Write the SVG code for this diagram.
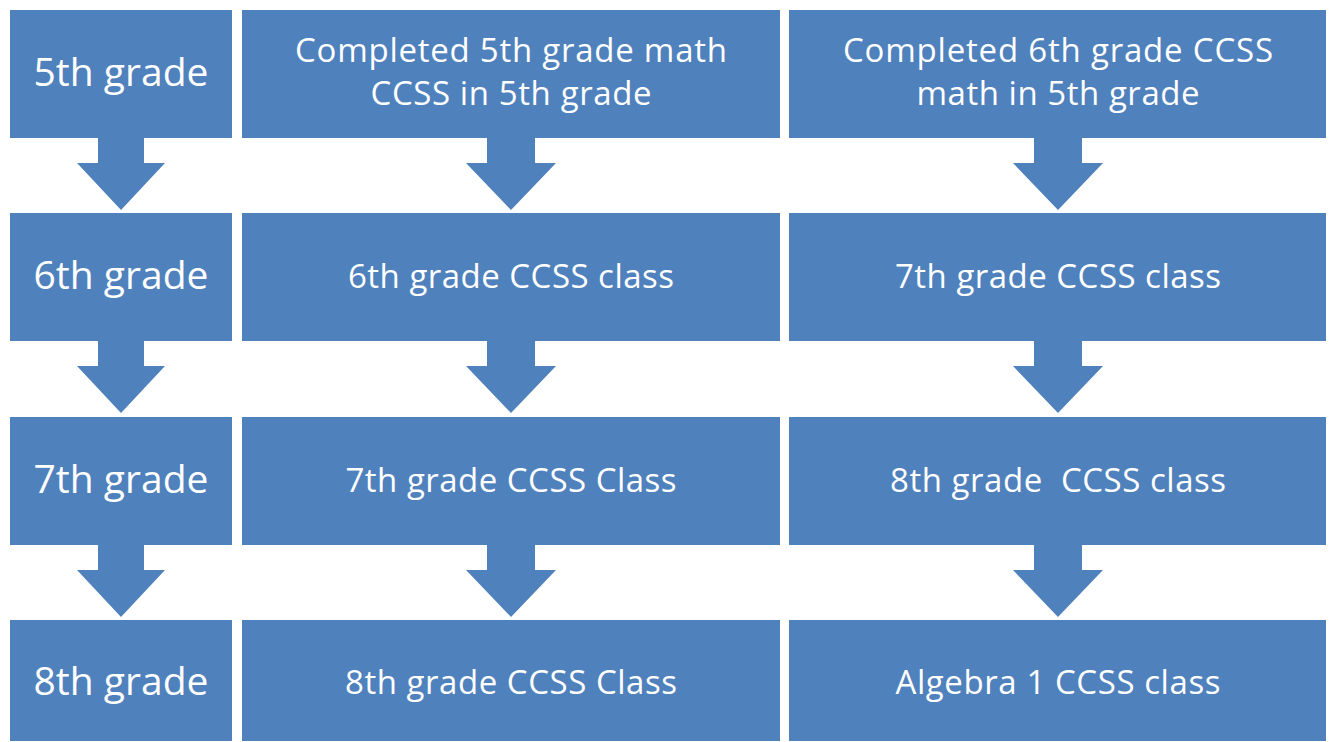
<svg xmlns="http://www.w3.org/2000/svg" width="1331" height="742" viewBox="0 0 1331 742">
  <style>
    .box { fill: #4F81BD; }
    .arrow { fill: #4F81BD; }
    .lbl { fill: #FFFFFF; font-family: "Open Sans", "Liberation Sans", sans-serif; text-anchor: middle; white-space: pre; }
    .big { font-size: 39px; }
    .std { font-size: 33px; }
  </style>
  <rect width="1331" height="742" fill="#FFFFFF"/>

  <!-- block arrows between rows -->
  <g id="connectors">
    <!-- grade column -->
    <polygon class="arrow" points="98,137 144,137 144,163 165,163 121,210 77,163 98,163"/>
    <polygon class="arrow" points="98,340 144,340 144,366 165,366 121,413 77,366 98,366"/>
    <polygon class="arrow" points="98,544 144,544 144,570 165,570 121,617 77,570 98,570"/>
    <!-- 5th grade track -->
    <polygon class="arrow" points="487,137 535,137 535,163 556,163 511,210 466,163 487,163"/>
    <polygon class="arrow" points="487,340 535,340 535,366 556,366 511,413 466,366 487,366"/>
    <polygon class="arrow" points="487,544 535,544 535,570 556,570 511,617 466,570 487,570"/>
    <!-- accelerated track -->
    <polygon class="arrow" points="1034,137 1082,137 1082,163 1103,163 1058,210 1013,163 1034,163"/>
    <polygon class="arrow" points="1034,340 1082,340 1082,366 1103,366 1058,413 1013,366 1034,366"/>
    <polygon class="arrow" points="1034,544 1082,544 1082,570 1103,570 1058,617 1013,570 1034,570"/>
  </g>

  <!-- grade column -->
  <g id="grade5">
    <rect class="box" x="10" y="10" width="222" height="128"/>
    <text class="lbl big" x="121" y="86" textLength="175">5th grade</text>
  </g>
  <g id="grade6">
    <rect class="box" x="10" y="213" width="222" height="128"/>
    <text class="lbl big" x="121" y="289" textLength="175">6th grade</text>
  </g>
  <g id="grade7">
    <rect class="box" x="10" y="417" width="222" height="128"/>
    <text class="lbl big" x="121" y="493" textLength="175">7th grade</text>
  </g>
  <g id="grade8">
    <rect class="box" x="10" y="620" width="222" height="121"/>
    <text class="lbl big" x="121" y="695" textLength="175">8th grade</text>
  </g>

  <!-- standard track -->
  <g id="std-start">
    <rect class="box" x="242" y="10" width="538" height="128"/>
    <text class="lbl std" x="511" y="62" textLength="432">Completed 5th grade math</text>
    <text class="lbl std" x="511" y="105" textLength="281">CCSS in 5th grade</text>
  </g>
  <g id="std-6">
    <rect class="box" x="242" y="213" width="538" height="128"/>
    <text class="lbl std" x="511" y="288" textLength="326">6th grade CCSS class</text>
  </g>
  <g id="std-7">
    <rect class="box" x="242" y="417" width="538" height="128"/>
    <text class="lbl std" x="511" y="492" textLength="331">7th grade CCSS Class</text>
  </g>
  <g id="std-8">
    <rect class="box" x="242" y="620" width="538" height="121"/>
    <text class="lbl std" x="511" y="694" textLength="332">8th grade CCSS Class</text>
  </g>

  <!-- accelerated track -->
  <g id="acc-start">
    <rect class="box" x="789" y="10" width="537" height="128"/>
    <text class="lbl std" x="1058" y="62" textLength="430">Completed 6th grade CCSS</text>
    <text class="lbl std" x="1058" y="105" textLength="283">math in 5th grade</text>
  </g>
  <g id="acc-7">
    <rect class="box" x="789" y="213" width="537" height="128"/>
    <text class="lbl std" x="1058" y="288" textLength="326">7th grade CCSS class</text>
  </g>
  <g id="acc-8">
    <rect class="box" x="789" y="417" width="537" height="128"/>
    <text class="lbl std" x="1058" y="492" textLength="336">8th grade  CCSS class</text>
  </g>
  <g id="acc-alg1">
    <rect class="box" x="789" y="620" width="537" height="121"/>
    <text class="lbl std" x="1058" y="694" textLength="325">Algebra 1 CCSS class</text>
  </g>
</svg>
